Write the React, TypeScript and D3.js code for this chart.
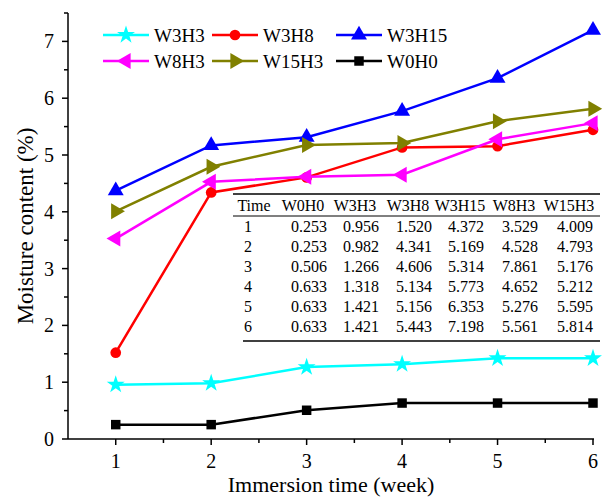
import React from 'react';
import * as d3 from 'd3';

// immersion time (week)
const weeks = [1, 2, 3, 4, 5, 6];

const w0h0 = [0.253, 0.253, 0.506, 0.633, 0.633, 0.633];
const w3h3 = [0.956, 0.982, 1.266, 1.318, 1.421, 1.421];
const w3h8 = [1.52, 4.341, 4.606, 5.134, 5.156, 5.443];
const w3h15 = [4.372, 5.169, 5.314, 5.773, 6.353, 7.198];
const w8h3 = [3.529, 4.528, 4.618, 4.652, 5.276, 5.561]; // plotted
const w15h3 = [4.009, 4.793, 5.176, 5.212, 5.595, 5.814];

// the printed table has 7.861 in week 3 for W8H3
const w8h3Printed = ['3.529', '4.528', '7.861', '4.652', '5.276', '5.561'];

const xTicks = [1, 2, 3, 4, 5, 6];
const yTicks = [0, 1, 2, 3, 4, 5, 6, 7];

const series = [
  { name: 'W3H3', values: w3h3, color: '#00ffff', symbol: d3.symbolStar, rot: 0, size: 100 },
  { name: 'W3H8', values: w3h8, color: '#ff0000', symbol: d3.symbolCircle, rot: 0, size: 90 },
  { name: 'W3H15', values: w3h15, color: '#0000ff', symbol: d3.symbolTriangle, rot: 0, size: 110 },
  { name: 'W8H3', values: w8h3, color: '#ff00ff', symbol: d3.symbolTriangle, rot: -90, size: 110 },
  { name: 'W15H3', values: w15h3, color: '#808000', symbol: d3.symbolTriangle, rot: 90, size: 110 },
  { name: 'W0H0', values: w0h0, color: '#000000', symbol: d3.symbolSquare, rot: 0, size: 90 },
];

const tableCols = [
  { name: 'W0H0', cells: w0h0.map(v => v.toFixed(3)) },
  { name: 'W3H3', cells: w3h3.map(v => v.toFixed(3)) },
  { name: 'W3H8', cells: w3h8.map(v => v.toFixed(3)) },
  { name: 'W3H15', cells: w3h15.map(v => v.toFixed(3)) },
  { name: 'W8H3', cells: w8h3Printed },
  { name: 'W15H3', cells: w15h3.map(v => v.toFixed(3)) },
];

const font = '"Liberation Serif", "Times New Roman", serif';

const App: React.FC = () => {
  const width = 611;
  const height = 499;

  const x = d3.scaleLinear().domain([0.5, 6]).range([68, 593]);
  const y = d3.scaleLinear().domain([0, 7.5]).range([439, 13]);

  const line = d3.line<number>()
    .x((_, i) => x(weeks[i]))
    .y(d => y(d));

  const xMinor = d3.range(1.5, 6, 1);
  const yMinor = d3.range(0.5, 7.6, 1);

  const marker = (s: typeof series[number], cx: number, cy: number, key: string) => (
    <path
      key={key}
      d={d3.symbol().type(s.symbol).size(s.size)() || ''}
      transform={`translate(${cx},${cy}) rotate(${s.rot})`}
      fill={s.color}
    />
  );

  // legend layout
  const legendX = [103, 212, 336];
  const legendY = [35, 61];

  // table layout
  const colCenters = [303, 355, 408, 460, 514, 569];
  const rowY0 = 232;
  const rowStep = 20;
  const tf = 16;

  return (
    <svg width={width} height={height} style={{ position: 'absolute', left: 0, top: 0, background: '#fff' }} fontFamily={font}>
      {/* axes */}
      <line x1={68} x2={68} y1={13} y2={439} stroke="#000" strokeWidth={1.5} />
      <line x1={68} x2={594} y1={439} y2={439} stroke="#000" strokeWidth={1.5} />
      {xTicks.map(t => (
        <g key={'xt' + t}>
          <line x1={x(t)} x2={x(t)} y1={439} y2={445} stroke="#000" strokeWidth={1.5} />
          <text x={x(t)} y={468} fontSize={20} textAnchor="middle">{t}</text>
        </g>
      ))}
      {xMinor.map(t => (
        <line key={'xm' + t} x1={x(t)} x2={x(t)} y1={439} y2={443} stroke="#000" strokeWidth={1.5} />
      ))}
      {yTicks.map(t => (
        <g key={'yt' + t}>
          <line x1={62} x2={68} y1={y(t)} y2={y(t)} stroke="#000" strokeWidth={1.5} />
          <text x={54} y={y(t) + 7} fontSize={20} textAnchor="end">{t}</text>
        </g>
      ))}
      {yMinor.map(t => (
        <line key={'ym' + t} x1={64} x2={68} y1={y(t)} y2={y(t)} stroke="#000" strokeWidth={1.5} />
      ))}
      <text x={331} y={492} fontSize={22} textAnchor="middle">Immersion time (week)</text>
      <text transform="translate(33,226) rotate(-90)" fontSize={23} textAnchor="middle">Moisture content (%)</text>

      {/* series */}
      {series.map(s => (
        <g key={s.name}>
          <path d={line(s.values) || ''} fill="none" stroke={s.color} strokeWidth={2.5} />
          {s.values.map((v, i) => marker(s, x(weeks[i]), y(v), s.name + i))}
        </g>
      ))}

      {/* legend */}
      {series.map((s, i) => {
        const lx = legendX[i % 3];
        const ly = legendY[Math.floor(i / 3)];
        return (
          <g key={'lg' + s.name}>
            <line x1={lx} x2={lx + 46} y1={ly} y2={ly} stroke={s.color} strokeWidth={2.5} />
            {marker(s, lx + 23, ly, 'lm' + s.name)}
            <text x={lx + 51} y={ly + 7} fontSize={19}>{s.name}</text>
          </g>
        );
      })}

      {/* table */}
      <line x1={233} x2={600} y1={194} y2={194} stroke="#000" strokeWidth={1.5} />
      <line x1={233} x2={600} y1={216} y2={216} stroke="#000" strokeWidth={1} />
      <line x1={243} x2={600} y1={341} y2={341} stroke="#000" strokeWidth={1.5} />
      <text x={254} y={211} fontSize={tf} textAnchor="middle">Time</text>
      {tableCols.map((c, ci) => (
        <text key={'th' + c.name} x={colCenters[ci]} y={211} fontSize={tf} textAnchor="middle">{c.name}</text>
      ))}
      {weeks.map((w, ri) => (
        <g key={'tr' + w}>
          <text x={248} y={rowY0 + ri * rowStep} fontSize={tf} textAnchor="middle">{w}</text>
          {tableCols.map((c, ci) => (
            <text key={c.name} x={colCenters[ci] + 6} y={rowY0 + ri * rowStep} fontSize={tf} textAnchor="middle">{c.cells[ri]}</text>
          ))}
        </g>
      ))}
    </svg>
  );
};

export default App;
